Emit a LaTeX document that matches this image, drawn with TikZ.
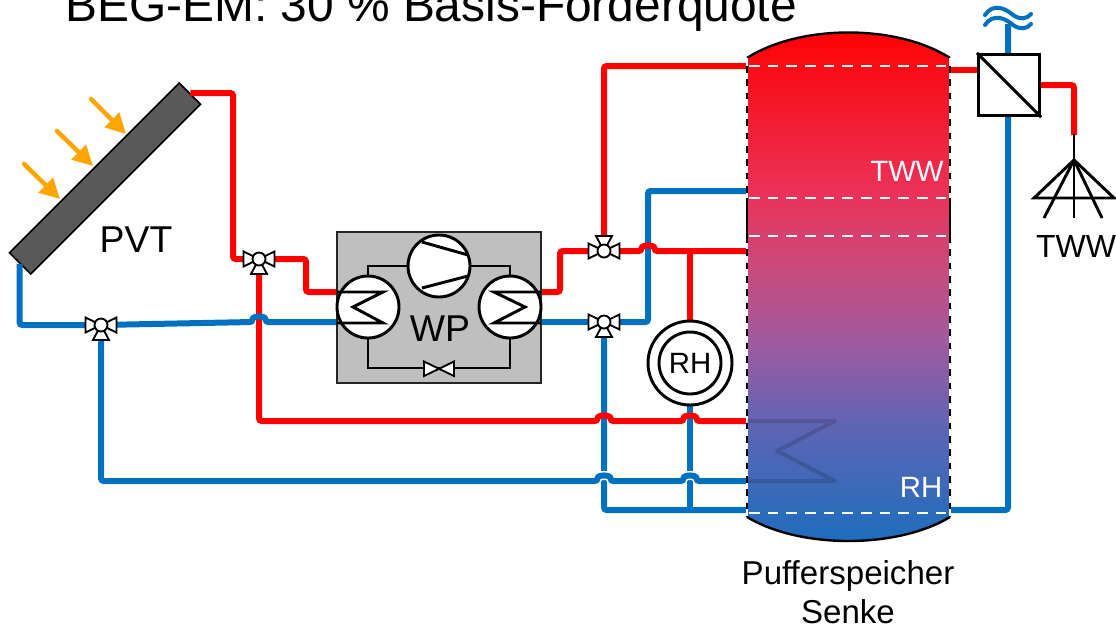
\documentclass[tikz,border=0pt]{standalone}
\usepackage{fontspec}
\setmainfont{Liberation Sans}
\usetikzlibrary{arrows.meta}
\definecolor{pipered}{HTML}{FF0000}
\definecolor{pipeblue}{HTML}{0070C0}
\definecolor{sunorange}{HTML}{FFA500}
\definecolor{tanklow}{RGB}{25,110,190}
\definecolor{tankb}{RGB}{95,100,180}
\definecolor{tankc}{RGB}{160,90,160}
\definecolor{tankd}{RGB}{200,75,125}
\definecolor{tanke}{RGB}{235,50,90}
\pgfdeclareverticalshading{tankfill}{100bp}{
  color(0bp)=(tanklow); color(25bp)=(tanklow);
  color(36.8bp)=(tankb); color(44.7bp)=(tankc);
  color(51.6bp)=(tankd); color(58.7bp)=(tanke);
  color(75bp)=(pipered); color(100bp)=(pipered)}
\newcommand{\pipehump}[2]{-- (#1-6.5,#2) .. controls (#1-6.5,#2-6.5) and (#1+6.5,#2-6.5) .. (#1+6.5,#2)}
\tikzset{
  redpipe/.style={draw=pipered, line width=4.5pt, rounded corners=2pt},
  bluepipe/.style={draw=pipeblue, line width=4.5pt, rounded corners=2pt},
  halo/.style={preaction={draw=white, line width=6.8pt}},
  sunray/.style={draw=sunorange, line width=3.4pt, line cap=round, -{Triangle[length=15pt, width=15pt]}},
  blackline/.style={draw=black, line width=2.2pt},
  valveline/.style={draw=black, fill=white, line width=1.4pt, line join=miter},
  hexcircle/.style={blackline, circle, fill=white, minimum size=46.5pt, inner sep=0pt},
  whitedash/.style={draw=white, line width=1.1pt, dash pattern=on 8pt off 6pt},
  tankside/.style={draw=black, line width=1.6pt, dash pattern=on 5pt off 5pt},
  valve/.pic={
    \draw[valveline] (-15.5,-7.5) -- (-15.5,7.5) -- (0,0) -- cycle;
    \draw[valveline] (15.5,-7.5) -- (15.5,7.5) -- (0,0) -- cycle;
    \draw[valveline] (-8,15) -- (8,15) -- (0,0) -- cycle;
    \draw[valveline] (0,0) circle[radius=6.5];
  }
}
\begin{document}
\begin{tikzpicture}[x=0.75pt, y=-0.75pt, font=\fontsize{22}{26}\selectfont]
  \useasboundingbox (0,0) rectangle (1116,629);
  \node[inner sep=0pt, anchor=base west, font=\fontsize{35.9}{42}\selectfont] (title) at (65,21) {BEG-EM: 30 \% Basis-Förderquote};

  \node[draw=black, fill=black!65, line width=1.2pt, rotate=45, minimum width=180pt, minimum height=22.5pt, inner sep=0pt] (pvt) at (105,178.5) {};
  \coordinate (vsolar) at (101,325);
  \coordinate (vsplit) at (259,259);
  \coordinate (vhot) at (604,251);
  \coordinate (vcold) at (604,322);
  \coordinate (hotport) at (747,66);
  \coordinate (coldport) at (747,191);
  \coordinate (midport) at (747,251);
  \coordinate (coilin) at (747,421);
  \coordinate (coilout) at (747,481);
  \coordinate (lowport) at (747,510);
  \coordinate (outport) at (950,510);
  \coordinate (drawport) at (950,70);
  \coordinate (evapred) at (338,292);
  \coordinate (evapblue) at (338,322);
  \coordinate (condred) at (540,292);
  \coordinate (condblue) at (540,322);
  \coordinate (hxout) at (1040,85);
  \coordinate (tap) at (1074,135);
  \coordinate (mainsin) at (1008,24);
  \coordinate (rhtop) at (690,322);
  \coordinate (rhbottom) at (690,404);

  \draw[bluepipe] (pvt.west) |- (vsolar);
  \draw[redpipe] (pvt.east) -- (233,93) |- (vsplit);
  \draw[redpipe] (vsplit) -- (306,259) |- (evapred);
  \draw[bluepipe] (vcold) -- (604,510) -- (lowport);
  \draw[bluepipe] (rhbottom) -- (690,510);
  \draw[bluepipe] (condblue) -- (vcold);
  \draw[bluepipe] (vcold) -- (648,322) |- (coldport);
  \draw[redpipe] (vhot) |- (hotport);
  \draw[redpipe] (condred) -- (560,292) |- (vhot);
  \draw[redpipe] (690,251) -- (rhtop);
  \draw[redpipe] (vhot) \pipehump{648}{251} -- (midport);
  \draw[redpipe] (vsplit) -- (259,421) \pipehump{604}{421} \pipehump{690}{421} -- (coilin);
  \draw[bluepipe] (vsolar) \pipehump{259}{322} -- (evapblue);
  \draw[bluepipe, halo] (vsolar) -- (101,481) \pipehump{604}{481} \pipehump{690}{481} -- (coilout);
  \draw[bluepipe] (outport) -- (1008,510) -- (mainsin);
  \draw[redpipe] (drawport) -- (978,70);
  \draw[redpipe] (hxout) -- (1074,85) -- (tap);

  \shade[shading=tankfill] (747,58) .. controls (800,24) and (897,24) .. (950,58) -- (950,517) .. controls (897,549) and (800,549) .. (747,517) -- cycle;
  \draw[blackline, line width=1.8pt] (747,58) .. controls (800,24) and (897,24) .. (950,58);
  \draw[blackline, line width=1.8pt] (747,517) .. controls (800,549) and (897,549) .. (950,517);
  \foreach \sidex in {747,950} {
    \draw[white, line width=1.6pt] (\sidex,58) -- (\sidex,517);
    \draw[tankside] (\sidex,66) -- (\sidex,198);
    \draw[blackline, line width=1.6pt] (\sidex,198) -- (\sidex,236);
    \draw[tankside] (\sidex,236) -- (\sidex,517);
  }
  \foreach \dashy in {66,198,236,513}
    \draw[whitedash] (749,\dashy) -- (948,\dashy);
  \draw[draw=black, opacity=0.15, line width=3pt, line join=round] (coilin) -- (835,421) -- (777,451) -- (835,481) -- (coilout);
  \node[text=white, inner sep=0pt] (twwtank) at (907,171) {TWW};
  \node[text=white, inner sep=0pt] (rhtank) at (921,487) {RH};

  \coordinate (sun1a) at (24,164);
  \coordinate (sun1b) at (60,199);
  \coordinate (sun2a) at (57,131);
  \coordinate (sun2b) at (93,166);
  \coordinate (sun3a) at (91,99);
  \coordinate (sun3b) at (126,134);
  \draw[sunray] (sun1a) -- (sun1b);
  \draw[sunray] (sun2a) -- (sun2b);
  \draw[sunray] (sun3a) -- (sun3b);
  \node[inner sep=0pt, font=\fontsize{28}{32}\selectfont] (pvtlabel) at (136,240) {PVT};

  \node[draw=black!85, fill=black!25, line width=1.2pt, minimum width=153pt, minimum height=113pt, inner sep=0pt] (wpbox) at (439,307.5) {};
  \node[hexcircle] (compressor) at (439,266) {};
  \node[hexcircle] (evaporator) at (368,307) {};
  \node[hexcircle] (condenser) at (510,307) {};
  \coordinate (expansion) at (439,368);
  \draw[blackline] (evaporator) |- (compressor);
  \draw[blackline] (compressor) -| (condenser);
  \draw[blackline] (evaporator) |- (expansion) -| (condenser);
  \draw[blackline] (422,242) -- (468,255);
  \draw[blackline] (422,288) -- (468,276);
  \draw[blackline, line join=miter] (337,292) -- (383,292) -- (353,307) -- (383,323) -- (337,323);
  \draw[blackline, line join=miter] (541,292) -- (494,292) -- (525,307) -- (494,323) -- (541,323);
  \draw[valveline] (424,361.5) -- (424,376) -- (454,361.5) -- (454,376) -- cycle;
  \node[inner sep=0pt, font=\fontsize{28}{32}\selectfont] (wplabel) at (440,329) {WP};

  \pic at (vsolar) {valve};
  \pic at (vsplit) {valve};
  \pic at (vcold) {valve};
  \pic[yscale=-1] at (vhot) {valve};

  \node[hexcircle, minimum size=63pt, path picture={\draw[blackline] (path picture bounding box.center) circle[radius=31];}] (reheater) at (690,363) {RH};

  \node[blackline, fill=white, minimum size=46pt, inner sep=0pt] (hxbox) at (1009,85) {};
  \draw[blackline] (hxbox.north west) -- (hxbox.south east);
  \draw[draw=pipeblue, line width=3pt, line cap=round] (985,15) .. controls (993,3) and (1005,8) .. (1013,15) .. controls (1020,20) and (1027,19) .. (1031,14);
  \draw[draw=pipeblue, line width=3pt, line cap=round] (985,25) .. controls (993,13) and (1005,18) .. (1013,25) .. controls (1020,30) and (1027,29) .. (1031,24);

  \coordinate (fan) at (1074,160);
  \draw[blackline, line cap=round] (tap) -- (fan);
  \draw[blackline, line join=miter] (fan) -- (1034,198) -- (1114,198) -- cycle;
  \foreach \tipx in {1044,1074,1102}
    \draw[blackline] (fan) -- (\tipx,218);
  \node[inner sep=0pt, font=\fontsize{24}{28}\selectfont] (twwtap) at (1076,246) {TWW};
  \node[align=center, inner sep=0pt, font=\fontsize{24.8}{29.5}\selectfont] (tanklabel) at (848,592) {Pufferspeicher\\Senke};
\end{tikzpicture}
\end{document}
